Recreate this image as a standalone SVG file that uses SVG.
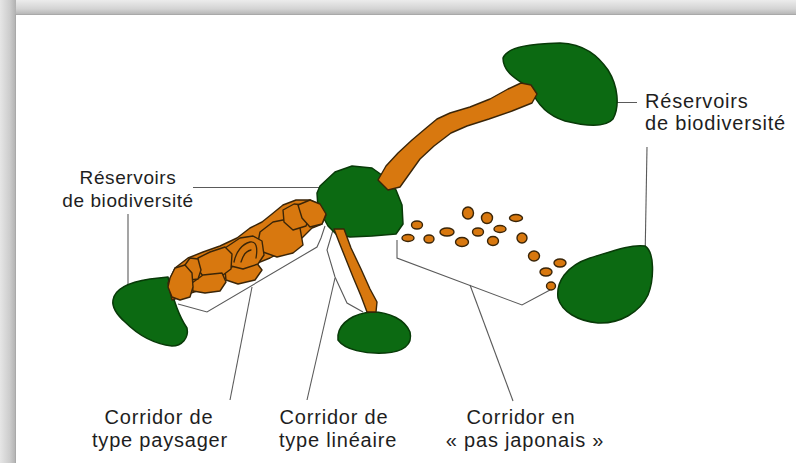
<svg xmlns="http://www.w3.org/2000/svg" width="796" height="463" viewBox="0 0 796 463">
<defs>
<linearGradient id="gTop" x1="0" y1="0" x2="0" y2="1">
<stop offset="0" stop-color="#ececec"/><stop offset="0.6" stop-color="#d3d3d3"/><stop offset="1" stop-color="#b2b2b2"/>
</linearGradient>
<linearGradient id="gLeft" x1="0" y1="0" x2="1" y2="0">
<stop offset="0" stop-color="#e6e6e6"/><stop offset="0.6" stop-color="#cdcdcd"/><stop offset="1" stop-color="#b0b0b0"/>
</linearGradient>
<style>
.res{fill:#0c6a12;stroke:#083a08;stroke-width:1.5;stroke-linejoin:round}
.cor{fill:#d8780f;stroke:#3a2508;stroke-width:1.4;stroke-linejoin:round}
.seam{fill:none;stroke:#3a2508;stroke-width:1.3;stroke-linecap:round}
.ld{fill:none;stroke:#5a5a5a;stroke-width:1.1}
.lbl{font-family:"Liberation Sans",Arial,sans-serif;font-size:20px;fill:#1e1e1e;letter-spacing:0.8px}
.lbs{font-family:"Liberation Sans",Arial,sans-serif;font-size:19px;fill:#1e1e1e;letter-spacing:0.6px}
</style>
</defs>
<g id="frame">
<rect x="0" y="0" width="796" height="463" fill="#ffffff"/>
<rect x="0" y="0" width="796" height="15" fill="url(#gTop)"/>
<rect x="0" y="0" width="16" height="463" fill="url(#gLeft)"/>
<line x1="15.5" y1="14.5" x2="796" y2="14.5" stroke="#a9a9a9" stroke-width="1"/>
<line x1="15.5" y1="14.5" x2="15.5" y2="463" stroke="#a9a9a9" stroke-width="1"/>
</g>
<g id="connectors">
<polyline class="ld" points="193,187.5 320,187.5"/>
<polyline class="ld" points="128,214 128,285"/>
<polyline class="ld" points="593,102.5 637,102.5"/>
<polyline class="ld" points="647,147 645,262"/>
<polyline class="ld" points="178,304 207,312 317,247 321,238 325,226"/>
<polyline class="ld" points="252,287 230,400"/>
<polyline class="ld" points="333,230 327,250 335,277 347,303 363,312"/>
<polyline class="ld" points="335,278 307,400"/>
<polyline class="ld" points="397,240 397,258 522,305 550,290"/>
<polyline class="ld" points="470,285 513,401"/>
</g>
<g id="reservoir-top-right">
<path class="res" d="M503,58 C508,46 532,44 560,43 C585,44 598,56 608,70 C618,86 620,106 613,119 C605,128 585,126 565,121 C546,115 536,102 531,89 C520,81 503,74 503,58 Z"/>
</g>
<g id="reservoir-center">
<polygon class="res" points="320,186 335,172 352,166 372,168 386,178 396,190 402,205 403,224 396,234 372,236 350,237 336,234 328,226 318,208 317,193"/>
</g>
<g id="reservoir-left">
<path class="res" d="M113,300 C115,288 130,282 150,279 L168,277 C172,295 178,315 187,328 C189,338 182,346 172,346 C155,344 138,335 125,322 C115,313 112,306 113,300 Z"/>
</g>
<g id="reservoir-bottom">
<path class="res" d="M338,335 C340,322 355,313 372,312 C390,312 405,320 410,332 C413,345 403,352 385,353 C365,354 345,350 338,340 Z"/>
</g>
<g id="reservoir-right">
<path class="res" d="M558,298 C556,282 566,266 590,258 C610,252 630,244 645,246 C655,252 654,280 648,295 C640,312 620,324 598,323 C578,321 562,312 558,298 Z"/>
</g>
<g id="corridor-upper">
<polygon class="cor" points="378,180 386,166 398,153 412,140 425,129 437,119 450,113 470,107 490,99 508,89 521,83 531,85 537,94 532,103 512,111 489,119 467,126 451,133 434,146 420,159 410,173 400,187 388,190"/>
</g>
<g id="corridor-paysager">
<polygon class="cor" points="168,283 175,268 188,258 203,252 220,246 237,238 250,228 262,222 272,214 283,205 296,200 310,200 320,205 326,215 322,224 312,228 300,240 285,250 270,258 253,265 237,273 220,281 203,289 185,295 172,300"/>
<polygon class="cor" points="260,232 273,222 293,218 300,228 303,245 293,253 277,257 263,252 258,242"/>
<polygon class="cor" points="283,210 294,204 305,205 310,215 306,226 293,230 284,222"/>
<polygon class="cor" points="298,205 310,200 320,204 326,214 322,224 310,227 302,218"/>
<polygon class="cor" points="225,270 240,263 256,262 262,270 255,280 238,284 226,280"/>
<polygon class="cor" points="225,248 240,238 253,236 262,241 264,255 258,264 243,269 231,266 226,257"/>
<path class="seam" d="M234,262 C236,252 242,244 250,242 C256,241 258,247 256,258"/>
<path class="seam" d="M241,262 C243,255 246,251 251,250"/>
<polygon class="cor" points="198,258 210,252 225,247 232,254 231,269 223,275 203,276 197,268"/>
<polygon class="cor" points="192,283 203,275 222,273 226,282 220,291 205,293 193,291"/>
<polygon class="cor" points="185,265 190,258 198,259 201,270 198,279 190,280"/>
<polygon class="cor" points="170,278 175,268 185,265 192,273 193,287 190,297 180,300 172,297 168,287"/>
</g>
<g id="corridor-lineaire">
<polygon class="cor" points="334,229 344,229 351,248 361,269 370,289 377,302 376,312 367,312 361,296 353,277 345,257 339,242"/>
</g>
<g id="corridor-pas-japonais">
<ellipse class="cor" cx="417" cy="225" rx="5.5" ry="4"/>
<ellipse class="cor" cx="408" cy="238" rx="6" ry="3.5"/>
<ellipse class="cor" cx="429" cy="239" rx="5" ry="4"/>
<ellipse class="cor" cx="447" cy="232" rx="7" ry="4"/>
<ellipse class="cor" cx="462" cy="242" rx="6.5" ry="4.5"/>
<ellipse class="cor" cx="468" cy="213" rx="5.5" ry="6"/>
<ellipse class="cor" cx="487" cy="218" rx="5.5" ry="5.5"/>
<ellipse class="cor" cx="478" cy="232" rx="5.5" ry="4"/>
<ellipse class="cor" cx="500" cy="229" rx="6" ry="3.5"/>
<ellipse class="cor" cx="493" cy="241" rx="5.5" ry="4.5"/>
<ellipse class="cor" cx="516" cy="218" rx="6.5" ry="3.5"/>
<ellipse class="cor" cx="522" cy="238" rx="5" ry="5"/>
<ellipse class="cor" cx="534" cy="256" rx="5.5" ry="5"/>
<ellipse class="cor" cx="560" cy="263" rx="6" ry="4"/>
<ellipse class="cor" cx="546" cy="272" rx="6" ry="4"/>
<ellipse class="cor" cx="551" cy="286" rx="4.5" ry="4"/>
</g>
<g id="label-reservoirs-left">
<text class="lbs" x="128" y="184" text-anchor="middle">Réservoirs</text>
<text class="lbs" x="128" y="207" text-anchor="middle">de biodiversité</text>
</g>
<g id="label-reservoirs-right">
<text class="lbl" x="645" y="108">Réservoirs</text>
<text class="lbl" x="645" y="130">de biodiversité</text>
</g>
<g id="label-paysager">
<text class="lbl" x="159" y="424" text-anchor="middle">Corridor de</text>
<text class="lbl" x="160" y="447" text-anchor="middle">type paysager</text>
</g>
<g id="label-lineaire">
<text class="lbl" x="334" y="424" text-anchor="middle">Corridor de</text>
<text class="lbl" x="338" y="447" text-anchor="middle">type linéaire</text>
</g>
<g id="label-japonais">
<text class="lbl" x="521" y="424" text-anchor="middle">Corridor en</text>
<text class="lbl" x="525" y="447" text-anchor="middle">« pas japonais »</text>
</g>
</svg>
